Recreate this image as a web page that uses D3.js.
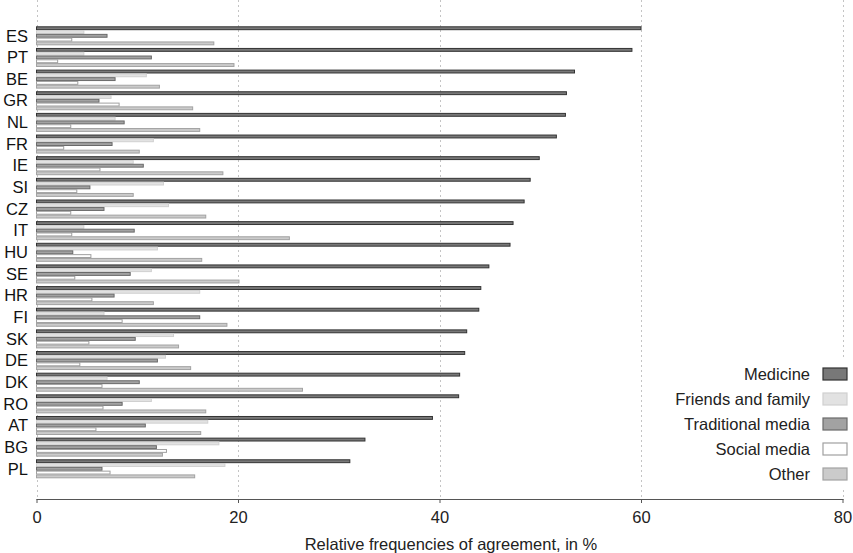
<!DOCTYPE html>
<html><head><meta charset="utf-8">
<script src="https://cdn.jsdelivr.net/npm/d3@7"></script>
<style>body{margin:0;background:#fff;}svg{display:block;font-family:"Liberation Sans",Arial,sans-serif;}</style>
</head><body>
<svg id="c" width="853" height="553"></svg>
<script>
const countries = ["ES","PT","BE","GR","NL","FR","IE","SI","CZ","IT","HU","SE","HR","FI","SK","DE","DK","RO","AT","BG","PL"];
const seriesNames = ["Medicine","Friends and family","Traditional media","Social media","Other"];
const medicine    = [60.0,59.1,53.4,52.6,52.5,51.6,49.9,49.0,48.4,47.3,47.0,44.9,44.1,43.9,42.7,42.5,42.0,41.9,39.3,32.6,31.1];
const friends     = [4.7,4.7,10.9,7.4,7.8,11.6,9.6,12.6,13.1,4.7,12.0,11.4,16.2,6.7,13.6,12.8,7.0,11.4,17.0,18.1,18.7];
const traditional = [7.0,11.4,7.8,6.2,8.7,7.5,10.6,5.3,6.7,9.7,3.6,9.3,7.7,16.2,9.8,12.0,10.2,8.5,10.8,11.9,6.5];
const social      = [3.5,2.1,4.1,8.2,3.4,2.7,6.3,4.0,3.4,3.5,5.4,3.8,5.5,8.5,5.2,4.3,6.5,6.6,5.9,12.9,7.3];
const other       = [17.6,19.6,12.2,15.5,16.2,10.2,18.5,9.6,16.8,25.1,16.4,20.1,11.6,18.9,14.1,15.3,26.4,16.8,16.3,12.5,15.7];
const xTicks = [0,20,40,60,80];
const xTitle = "Relative frequencies of agreement, in %";

const seriesValues = [medicine, friends, traditional, social, other];
const fills   = ["#787878","#e2e2e2","#a2a2a2","#ffffff","#cbcbcb"];
const strokes = ["#333333","#d0d0d0","#6a6a6a","#a0a0a0","#a2a2a2"];

const svg = d3.select("#c");
const x = d3.scaleLinear().domain([0,80]).range([36.5,842.5]);
const y = d3.scaleBand().domain(countries).range([26.3,477.9]).paddingInner(0.14).paddingOuter(0);
const ys = d3.scaleBand().domain(seriesNames).range([0,y.bandwidth()]).paddingInner(0.08).paddingOuter(0);
const axisY = 499;

// gridlines
svg.append("g").selectAll("line").data(xTicks).join("line")
  .attr("x1",d=>Math.round(x(d))+0.5).attr("x2",d=>Math.round(x(d))+0.5)
  .attr("y1",0).attr("y2",axisY)
  .attr("stroke","#c4c4c4").attr("stroke-width",1).attr("stroke-dasharray","2,3");

// bars
const groups = svg.append("g").selectAll("g").data(countries).join("g")
  .attr("transform",c=>`translate(0,${y(c)})`);
groups.each(function(c,i){
  d3.select(this).selectAll("rect").data(seriesNames).join("rect")
    .attr("x",x(0))
    .attr("y",s=>ys(s)+0.5)
    .attr("width",(s,j)=>x(seriesValues[j][i])-x(0))
    .attr("height",ys.bandwidth()-0.6)
    .attr("fill",(s,j)=>fills[j])
    .attr("stroke",(s,j)=>strokes[j])
    .attr("stroke-width",1);
});

// country labels
svg.append("g").selectAll("text").data(countries).join("text")
  .attr("x",28).attr("y",c=>y(c)+y.bandwidth()/2)
  .attr("dy","0.36em").attr("text-anchor","end")
  .attr("font-size",16.5).attr("fill","#111").text(c=>c);

// x axis
const ax = svg.append("g").attr("transform",`translate(0,${axisY})`)
  .call(d3.axisBottom(x).tickValues(xTicks).tickSize(4).tickPadding(8));
ax.select(".domain").attr("stroke","#555").attr("d",`M${x(0)},0.5H${x(80)+1}`);
ax.selectAll(".tick line").attr("stroke","#555");
ax.selectAll(".tick text").attr("font-size",16.5).attr("fill","#222").attr("font-family","'Liberation Sans',Arial,sans-serif");

svg.append("text").attr("x",451).attr("y",550)
  .attr("text-anchor","middle").attr("font-size",16.5).attr("fill","#222").text(xTitle);

// legend
const leg = svg.append("g");
leg.append("rect").attr("x",662).attr("y",360).attr("width",191).attr("height",128).attr("fill","#fff");
const lr = leg.selectAll("g").data(seriesNames).join("g")
  .attr("transform",(s,j)=>`translate(0,${374+j*25})`);
lr.append("rect").attr("x",823).attr("y",-6).attr("width",24).attr("height",12)
  .attr("fill",(s,j)=>fills[j]).attr("stroke",(s,j)=>strokes[j]).attr("stroke-width",1.2);
lr.append("text").attr("x",810).attr("y",0).attr("dy","0.36em").attr("text-anchor","end")
  .attr("font-size",16.5).attr("fill","#222").text(s=>s);
</script>
</body></html>
